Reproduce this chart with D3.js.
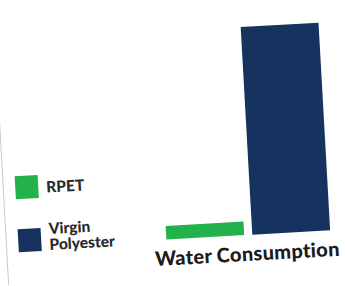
<!DOCTYPE html>
<html><head><meta charset="utf-8">
<script src="https://cdn.jsdelivr.net/npm/d3@7"></script>
<style>
html,body{margin:0;padding:0;background:#fff;}
svg{display:block;}
</style></head>
<body>
<svg id="chart" width="345" height="286"></svg>
<script>
const categories = ["Water Consumption"];
const seriesNames = ["RPET", "Virgin Polyester"];
const seriesValues = [6.5, 100];
const legendLines = [["RPET"], ["Virgin", "Polyester"]];
const colors = ["#23b14b", "#15335e"];

const svg = d3.select("#chart");
const g = svg.append("g").attr("transform", "rotate(-3.2,172,143)");

// card edge
g.append("line").attr("x1", 1).attr("x2", 1).attr("y1", -20).attr("y2", 276)
  .attr("stroke", "#c8c8c8").attr("stroke-width", 1);

const x0 = d3.scaleBand().domain(categories).range([161, 325]).padding(0);
const x1 = d3.scaleBand().domain(seriesNames).range([0, x0.bandwidth()]).paddingInner(0.094);
const y = d3.scaleLinear().domain([0, 100]).range([239, 31]);

categories.forEach(cat => {
  g.selectAll("rect.bar").data(seriesNames.map((s, i) => ({s, v: seriesValues[i], c: colors[i]})))
    .join("rect").attr("class", "bar")
    .attr("x", d => x0(cat) + x1(d.s))
    .attr("width", x1.bandwidth())
    .attr("y", d => y(d.v))
    .attr("height", d => y(0) - y(d.v))
    .attr("fill", d => d.c);
  g.append("text").attr("x", x0(cat) + x0.bandwidth() / 2 - 2).attr("y", 265)
    .attr("text-anchor", "middle")
    .attr("font-family", "Lato, sans-serif").attr("font-weight", 900)
    .attr("font-size", 20).attr("letter-spacing", 0.3).attr("fill", "#1b1b1b").text(cat);
});

// legend
const legendY = [167.5, 220.5];
const legendTextY = [[185.5], [227, 243]];
seriesNames.forEach((s, i) => {
  g.append("rect").attr("x", 13).attr("y", legendY[i]).attr("width", 23).attr("height", 23)
    .attr("fill", colors[i]);
  legendLines[i].forEach((ln, j) => {
    g.append("text").attr("x", 44).attr("y", legendTextY[i][j])
      .attr("font-family", "Lato, sans-serif").attr("font-weight", 900)
      .attr("font-size", 15.5).attr("fill", "#2a2a2a").text(ln);
  });
});
</script>
</body></html>
